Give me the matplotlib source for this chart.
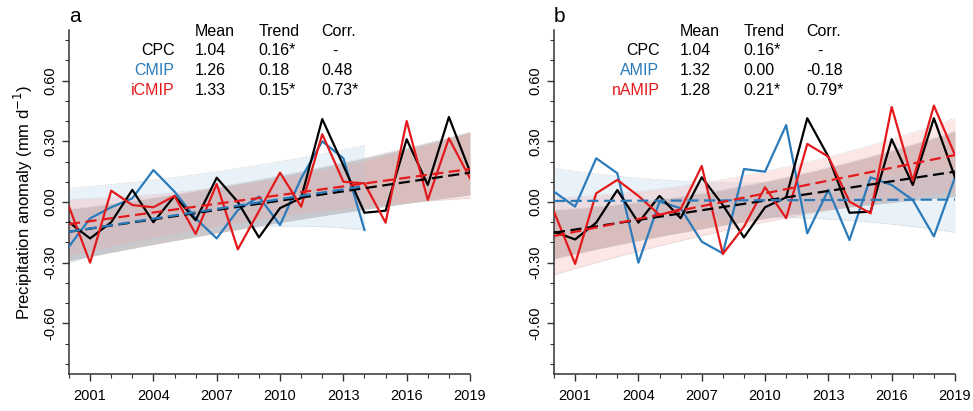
import numpy as np
import matplotlib
matplotlib.use("Agg")
import matplotlib.pyplot as plt
from matplotlib.ticker import MultipleLocator, FixedLocator, FormatStrFormatter

plt.rcParams['font.family'] = ['Liberation Sans', 'DejaVu Sans']
plt.rcParams['axes.unicode_minus'] = False

years = np.arange(2000, 2020)
years_cmip = np.arange(2000, 2015)

# Panel a
cpc_a = [-0.10, -0.18, -0.10, 0.06, -0.10, 0.03, -0.09, 0.12, 0.00, -0.175,
         -0.03, 0.02, 0.41, 0.18, -0.053, -0.043, 0.31, 0.084, 0.42, 0.15]
cmip_a = [-0.22, -0.081, -0.026, 0.018, 0.158, 0.051, -0.081, -0.18, -0.04, 0.026,
          -0.114, 0.117, 0.30, 0.216, -0.138]
icmip_a = [-0.023, -0.30, 0.056, -0.015, -0.026, 0.030, -0.158, 0.089, -0.234, -0.045,
           0.145, -0.023, 0.335, 0.10, 0.092, -0.102, 0.40, 0.01, 0.315, 0.117]

# Panel b
cpc_b = [-0.147, -0.185, -0.102, 0.059, -0.102, 0.03, -0.08, 0.122, -0.015, -0.175,
         -0.026, 0.023, 0.414, 0.224, -0.053, -0.048, 0.31, 0.084, 0.414, 0.122]
amip_b = [0.051, -0.023, 0.216, 0.142, -0.30, 0.002, -0.031, -0.196, -0.254, 0.163,
          0.15, 0.38, -0.155, 0.06, -0.188, 0.122, 0.084, 0.01, -0.17, 0.122]
namip_b = [-0.048, -0.306, 0.043, 0.109, 0.03, -0.064, -0.036, 0.178, -0.257, -0.122,
           0.073, -0.08, 0.287, 0.224, 0.002, -0.056, 0.47, 0.105, 0.476, 0.232]

# trend lines: (value at first year, value at last year)
trend_cpc_a = (-0.147, 0.145)
trend_cmip_a = (-0.147, 0.079)
trend_icmip_a = (-0.109, 0.163)
trend_cpc_b = (-0.152, 0.150)
trend_amip_b = (0.005, 0.012)
trend_namip_b = (-0.168, 0.232)

# uncertainty bands: years, lower edge, upper edge
band_years = [2000, 2009.5, 2019]
band_years_cmip = [2000, 2007, 2014]
band_cpc_a_lo = [-0.29, -0.11, 0.035]
band_cpc_a_hi = [-0.036, 0.12, 0.345]
band_cmip_a_lo = [-0.30, -0.14, -0.138]
band_cmip_a_hi = [0.068, 0.15, 0.28]
band_icmip_a_lo = [-0.267, -0.08, 0.018]
band_icmip_a_hi = [0.013, 0.11, 0.345]
band_cpc_b_lo = [-0.28, -0.09, 0.026]
band_cpc_b_hi = [-0.04, 0.09, 0.35]
band_amip_b_lo = [-0.155, -0.075, -0.15]
band_amip_b_hi = [0.166, 0.095, 0.17]
band_namip_b_lo = [-0.36, -0.11, 0.05]
band_namip_b_hi = [0.02, 0.14, 0.414]

# table text
names_a = ["CPC", "CMIP", "iCMIP"]
names_b = ["CPC", "AMIP", "nAMIP"]
means_a = ["1.04", "1.26", "1.33"]
trends_a = ["0.16*", "0.18", "0.15*"]
corrs_a = ["-", "0.48", "0.73*"]
means_b = ["1.04", "1.32", "1.28"]
trends_b = ["0.16*", "0.00", "0.21*"]
corrs_b = ["-", "-0.18", "0.79*"]

BLACK = "#000000"
BLUE = "#2b7bba"
RED = "#e4191c"
band_colors = {"k": ("#6e5a5a", 0.33), "b": ("#a9cfe6", 0.25), "r": ("#f5a3a3", 0.27)}

fig = plt.figure(figsize=(9.73, 4.11), dpi=100)
ax_a = fig.add_axes([69/973, 1-374/411, 401/973, 344/411])
ax_b = fig.add_axes([554/973, 1-374/411, 401/973, 344/411])


def band(ax, bx, lo, hi, key):
    xf = np.linspace(bx[0], bx[-1], 120)
    lo_f = np.polyval(np.polyfit(bx, lo, 2), xf)
    hi_f = np.polyval(np.polyfit(bx, hi, 2), xf)
    col, al = band_colors[key]
    ax.fill_between(xf, lo_f, hi_f, color=col, alpha=al, lw=0, zorder=1)
    ax.plot(xf, lo_f, color="#c8c8c8", lw=0.5, ls=(0, (2, 2)), zorder=1.5)
    ax.plot(xf, hi_f, color="#c8c8c8", lw=0.5, ls=(0, (2, 2)), zorder=1.5)


def trend_line(ax, x, trend, color):
    ax.plot([x[0], x[-1]], list(trend), color=color, lw=1.6, ls=(0, (5, 2.5)), zorder=4)


def style(ax, label):
    ax.set_xlim(2000, 2019)
    ax.set_ylim(-0.85, 0.85)
    ax.xaxis.set_major_locator(FixedLocator(np.arange(2001, 2020, 3)))
    ax.xaxis.set_minor_locator(MultipleLocator(1))
    ax.yaxis.set_major_locator(FixedLocator([-0.6, -0.3, 0.0, 0.3, 0.6]))
    ax.yaxis.set_minor_locator(MultipleLocator(0.1))
    ax.yaxis.set_major_formatter(FormatStrFormatter('%.2f'))
    for s in ['top', 'right']:
        ax.spines[s].set_visible(False)
    for s in ['left', 'bottom']:
        ax.spines[s].set_linewidth(1.1)
        ax.spines[s].set_color('#333333')
    ax.tick_params(which='major', direction='out', length=5, width=1.0, color='#333333', labelsize=10.5)
    ax.tick_params(which='minor', direction='out', length=2.8, width=0.8, color='#333333')
    ax.tick_params(axis='x', pad=6)
    for t in ax.get_yticklabels():
        t.set_rotation(90)
        t.set_va('center')
    ax.text(0.0, 1.024, label, transform=ax.transAxes, fontsize=15, ha='left', va='baseline')


def table(ax, names, colors, means, trends, corrs):
    tr = ax.transAxes
    fs = 11.5
    x_name, x_mean, x_trend, x_corr = 0.263, 0.313, 0.472, 0.629
    ys = [0.997, 0.939, 0.881, 0.823]
    ax.text(x_mean, ys[0], "Mean", transform=tr, fontsize=fs, va='center', ha='left')
    ax.text(x_trend, ys[0], "Trend", transform=tr, fontsize=fs, va='center', ha='left')
    ax.text(x_corr, ys[0], "Corr.", transform=tr, fontsize=fs, va='center', ha='left')
    for i in range(3):
        y = ys[i + 1]
        ax.text(x_name, y, names[i], color=colors[i], transform=tr, fontsize=fs, va='center', ha='right')
        ax.text(x_mean, y, means[i], transform=tr, fontsize=fs, va='center', ha='left')
        ax.text(x_trend, y, trends[i], transform=tr, fontsize=fs, va='center', ha='left')
        if corrs[i] == "-":
            ax.text(x_corr + 0.035, y, corrs[i], transform=tr, fontsize=fs, va='center', ha='center')
        else:
            ax.text(x_corr, y, corrs[i], transform=tr, fontsize=fs, va='center', ha='left')


# Panel a
band(ax_a, band_years, band_cpc_a_lo, band_cpc_a_hi, "k")
band(ax_a, band_years_cmip, band_cmip_a_lo, band_cmip_a_hi, "b")
band(ax_a, band_years, band_icmip_a_lo, band_icmip_a_hi, "r")
ax_a.plot(years_cmip, cmip_a, color=BLUE, lw=1.6, zorder=3)
ax_a.plot(years, cpc_a, color=BLACK, lw=1.6, zorder=3)
ax_a.plot(years, icmip_a, color=RED, lw=1.6, zorder=3)
trend_line(ax_a, years, trend_cpc_a, BLACK)
trend_line(ax_a, years_cmip, trend_cmip_a, BLUE)
trend_line(ax_a, years, trend_icmip_a, RED)
style(ax_a, "a")
table(ax_a, names_a, [BLACK, BLUE, RED], means_a, trends_a, corrs_a)
ax_a.set_ylabel("Precipitation anomaly (mm d$^{-1}$)", fontsize=12, labelpad=6)

# Panel b
band(ax_b, band_years, band_cpc_b_lo, band_cpc_b_hi, "k")
band(ax_b, band_years, band_amip_b_lo, band_amip_b_hi, "b")
band(ax_b, band_years, band_namip_b_lo, band_namip_b_hi, "r")
ax_b.plot(years, amip_b, color=BLUE, lw=1.6, zorder=3)
ax_b.plot(years, cpc_b, color=BLACK, lw=1.6, zorder=3)
ax_b.plot(years, namip_b, color=RED, lw=1.6, zorder=3)
trend_line(ax_b, years, trend_cpc_b, BLACK)
trend_line(ax_b, years, trend_amip_b, BLUE)
trend_line(ax_b, years, trend_namip_b, RED)
style(ax_b, "b")
table(ax_b, names_b, [BLACK, BLUE, RED], means_b, trends_b, corrs_b)

fig.savefig("out.png", dpi=100)
